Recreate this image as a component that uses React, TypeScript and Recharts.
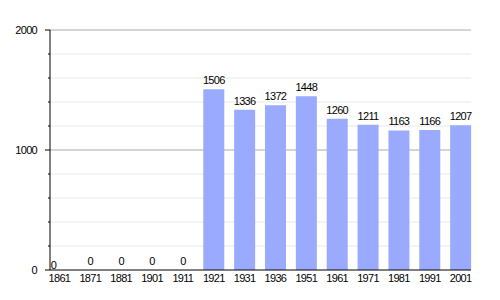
import { Bar, CartesianGrid, ComposedChart, LabelList, Line, XAxis, YAxis } from "recharts";

const YEARS = ["1861", "1871", "1881", "1901", "1911", "1921", "1931", "1936", "1951", "1961", "1971", "1981", "1991", "2001"];
const POPULATION = [0, 0, 0, 0, 0, 1506, 1336, 1372, 1448, 1260, 1211, 1163, 1166, 1207];
const Y_TICKS = [0, 200, 400, 600, 800, 1000, 1200, 1400, 1600, 1800, 2000];
const MAJOR_TICKS = [0, 1000, 2000];
const MINOR_GRID = [200, 400, 600, 800, 1200, 1400, 1600, 1800];
const MAJOR_GRID = [1000, 2000];

const FONT = "'Liberation Sans', Arial, sans-serif";
const SPACING = "-0.7px";

const chartData = YEARS.map((year, i) => ({ year, pop: POPULATION[i] }));

function YTick({ x, y, payload }: any) {
  const major = MAJOR_TICKS.includes(payload.value);
  return (
    <g>
      <line x1={x - (major ? 5 : 2)} x2={x} y1={y} y2={y} stroke="#000" />
      {major ? (
        <text
          x={x - 13}
          y={y}
          dy="0.35em"
          textAnchor="end"
          fontSize={11}
          fontFamily={FONT}
          letterSpacing={SPACING}
          fill="#000"
        >
          {payload.value}
        </text>
      ) : null}
    </g>
  );
}

function XTick({ x, y, payload }: any) {
  return (
    <text x={x} y={y} dy="0.71em" textAnchor="middle" fontSize={11} fontFamily={FONT} letterSpacing={SPACING} fill="#000">
      {payload.value}
    </text>
  );
}

function ValueLabel({ x, y, value, index }: any) {
  const first = index === 0;
  const cx = x + (first ? -6 : 0);
  const baseline = y - (first ? 1 : 5);
  return (
    <text x={cx} y={baseline} textAnchor="middle" fontSize={11} fontFamily={FONT} letterSpacing={SPACING} fill="#000">
      {value}
    </text>
  );
}

export default function App() {
  return (
    <div style={{ position: "fixed", left: 0, top: 0, background: "#fff" }}>
      <ComposedChart
        width={500}
        height={300}
        data={chartData}
        margin={{ top: 30, right: 29, bottom: 0, left: 0 }}
        style={{ fontFamily: FONT }}
      >
        <CartesianGrid vertical={false} horizontalValues={MINOR_GRID} stroke="#e8e8e8" />
        <CartesianGrid vertical={false} horizontalValues={MAJOR_GRID} stroke="#aaaaaa" />
        <XAxis
          dataKey="year"
          height={30}
          padding={{ left: -6, right: -5 }}
          tickLine={false}
          tickSize={0}
          tickMargin={4}
          axisLine={{ stroke: "#000" }}
          tick={<XTick />}
          interval={0}
        />
        <YAxis
          width={50}
          domain={[0, 2000]}
          ticks={Y_TICKS}
          interval={0}
          tickLine={false}
          tickSize={0}
          tickMargin={0}
          axisLine={{ stroke: "#000" }}
          tick={<YTick />}
        />
        <Bar dataKey="pop" fill="#99aaff" barSize={21} isAnimationActive={false} />
        <Line dataKey="pop" stroke="none" dot={false} activeDot={false} isAnimationActive={false}>
          <LabelList dataKey="pop" content={<ValueLabel />} />
        </Line>
      </ComposedChart>
    </div>
  );
}
